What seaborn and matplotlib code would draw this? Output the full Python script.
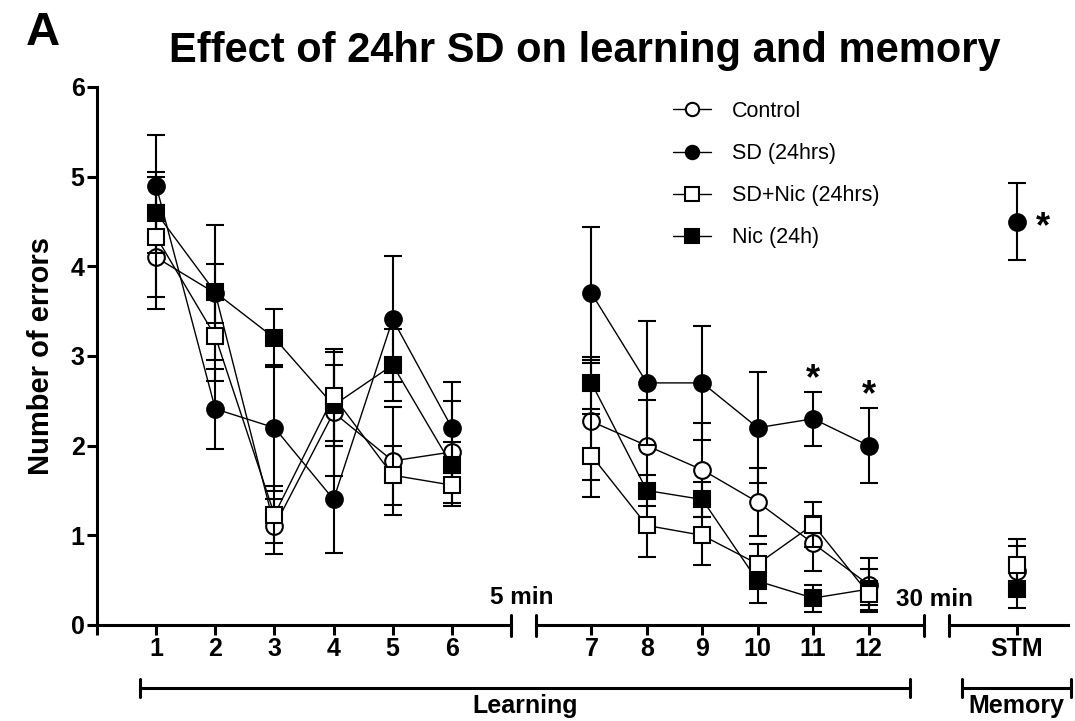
import matplotlib
matplotlib.use("Agg")
import matplotlib.pyplot as plt
import seaborn as sns
from matplotlib.lines import Line2D

# ---- data: mean number of errors and SEM per trial ----
trials_early = [1, 2, 3, 4, 5, 6]
trials_late = [7, 8, 9, 10, 11, 12]
stm_label = "STM"

control_mean = [4.10, 3.70, 1.10, 2.37, 1.83, 1.93, 2.27, 2.00, 1.73, 1.37, 0.91, 0.45]
control_sem = [0.58, 0.33, 0.31, 0.71, 0.60, 0.57, 0.65, 0.51, 0.52, 0.38, 0.31, 0.30]
control_stm = [0.60]
control_stm_sem = [0.28]

sd_mean = [4.90, 2.41, 2.20, 1.40, 3.41, 2.20, 3.70, 2.70, 2.70, 2.20, 2.30, 2.00]
sd_sem = [0.57, 0.45, 0.70, 0.60, 0.70, 0.51, 0.74, 0.69, 0.64, 0.62, 0.30, 0.42]
sd_stm = [4.50]
sd_stm_sem = [0.43]

sdnic_mean = [4.33, 3.22, 1.23, 2.55, 1.67, 1.56, 1.89, 1.11, 1.00, 0.68, 1.12, 0.35]
sdnic_sem = [0.67, 0.50, 0.32, 0.50, 0.33, 0.23, 0.46, 0.35, 0.33, 0.22, 0.25, 0.13]
sdnic_stm = [0.67]
sdnic_stm_sem = [0.29]

nic_mean = [4.60, 3.71, 3.20, 2.45, 2.90, 1.78, 2.70, 1.50, 1.40, 0.49, 0.30, 0.40]
nic_sem = [0.45, 0.75, 0.32, 0.45, 0.40, 0.26, 0.29, 0.17, 0.20, 0.25, 0.15, 0.23]
nic_stm = [0.40]
nic_stm_sem = [0.21]

significant_trials = [11, 12]

sns.set_style("ticks")
plt.rcParams["font.family"] = ["Liberation Sans", "DejaVu Sans"]
for key in ("text.color", "axes.labelcolor", "xtick.color", "ytick.color", "axes.edgecolor"):
    plt.rcParams[key] = "black"

W, H = 1075, 721
fig = plt.figure(figsize=(W / 100, H / 100), dpi=100)


def fx(px):
    return px / W


def fy(py):
    return 1 - py / H


TICK_FS = 18
bottom, top = fy(625), fy(87)
ax1 = fig.add_axes([fx(97), bottom, fx(511) - fx(97), top - bottom])
ax2 = fig.add_axes([fx(536), bottom, fx(924) - fx(536), top - bottom])
ax3 = fig.add_axes([fx(949), bottom, fx(1068) - fx(949), top - bottom])

# label, means, sems, stm mean, stm sem, marker, face, zorder (drawing order)
series = [
    ("Control", control_mean, control_sem, control_stm, control_stm_sem, "o", "white", 3),
    ("SD (24hrs)", sd_mean, sd_sem, sd_stm, sd_stm_sem, "o", "black", 4),
    ("Nic (24h)", nic_mean, nic_sem, nic_stm, nic_stm_sem, "s", "black", 5),
    ("SD+Nic (24hrs)", sdnic_mean, sdnic_sem, sdnic_stm, sdnic_stm_sem, "s", "white", 6),
]

stm_x = [0]
for label, m, s, ms, ss, mk, face, z in series:
    parts = [
        (ax1, trials_early, m[:6], s[:6]),
        (ax2, trials_late, m[6:], s[6:]),
        (ax3, stm_x, ms, ss),
    ]
    for ax, xs, ys, es in parts:
        ax.errorbar(xs, ys, yerr=es, fmt="none", ecolor="black", elinewidth=1.5,
                    capsize=6.5, capthick=1.5, zorder=z, clip_on=False)
        sns.lineplot(x=xs, y=ys, ax=ax, color="black", linewidth=1.0, marker=mk,
                     markersize=12, markerfacecolor=face, markeredgecolor="black",
                     markeredgewidth=1.5, zorder=z + 0.5, clip_on=False,
                     label=label if ax is ax1 else None, errorbar=None)

for ax in (ax1, ax2, ax3):
    leg = ax.get_legend()
    if leg is not None:
        leg.remove()
    ax.set_ylim(0, 6)
    ax.set_xlabel("")
    ax.set_ylabel("")
    for side in ("top", "right"):
        ax.spines[side].set_visible(False)
    for side in ("left", "bottom"):
        ax.spines[side].set_linewidth(2.2)
        ax.spines[side].set_color("black")
    ax.tick_params(axis="both", direction="out", length=7, width=2.2, color="black",
                   labelcolor="black", pad=2, labelsize=TICK_FS)
    ax.patch.set_alpha(0)

ax1.set_xlim(0, 7)
ax2.set_xlim(6, 13)
ax3.set_xlim(-68 / 59, 51 / 59)

ax1.set_yticks(range(0, 7))
ax1.set_yticklabels([str(v) for v in range(0, 7)], fontweight="bold", fontsize=TICK_FS)
ax1.set_xticks([0] + trials_early)
ax1.set_xticklabels([""] + [str(t) for t in trials_early], fontweight="bold", fontsize=TICK_FS)
ax2.set_xticks(trials_late)
ax2.set_xticklabels([str(t) for t in trials_late], fontweight="bold", fontsize=TICK_FS)
ax3.set_xticks(stm_x)
ax3.set_xticklabels([stm_label], fontweight="bold", fontsize=TICK_FS)
for ax in (ax2, ax3):
    ax.spines["left"].set_visible(False)
    ax.tick_params(axis="y", left=False, labelleft=False)

# break caps on the x axis
for px in (511, 536, 924, 949):
    fig.add_artist(Line2D([fx(px), fx(px)], [fy(615), fy(636)], color="black", lw=2.2))

fig.text(fx(522), fy(597), "5 min", ha="center", va="center", fontsize=17.5, fontweight="bold")
fig.text(fx(935), fy(599), "30 min", ha="center", va="center", fontsize=17.5, fontweight="bold")

# significance stars
for t in significant_trials:
    i = trials_late.index(t)
    ax2.annotate("*", xy=(t, sd_mean[6 + i] + sd_sem[6 + i]), xytext=(0, 2),
                 textcoords="offset points", ha="center", va="baseline",
                 fontsize=26, fontweight="bold", annotation_clip=False)
ax3.annotate("*", xy=(0, sd_stm[0]), xytext=(19, -11), textcoords="offset points",
             ha="center", va="baseline", fontsize=26, fontweight="bold",
             annotation_clip=False)

# legend
handles, labels = ax1.get_legend_handles_labels()
order = ["Control", "SD (24hrs)", "SD+Nic (24hrs)", "Nic (24h)"]
hmap = dict(zip(labels, handles))
fig.legend([hmap[k] for k in order], order, loc="upper left",
           bbox_to_anchor=(fx(673), fy(101)), frameon=False, fontsize=15.5,
           handlelength=1.75, handletextpad=1.0, labelspacing=0.98,
           borderpad=0, borderaxespad=0, markerscale=0.8)

# titles and axis label
fig.text(fx(585), fy(62), "Effect of 24hr SD on learning and memory", ha="center",
         va="baseline", fontsize=30, fontweight="bold")
fig.text(fx(26), fy(45), "A", ha="left", va="baseline", fontsize=34, fontweight="bold")
fig.text(fx(41), fy(356), "Number of errors", rotation=90, ha="center", va="center",
         fontsize=21, fontweight="bold")

# Learning / Memory brackets
def bracket(x0, x1, y, text):
    fig.add_artist(Line2D([fx(x0), fx(x1)], [fy(y), fy(y)], color="black", lw=2.2))
    for px in (x0, x1):
        fig.add_artist(Line2D([fx(px), fx(px)], [fy(y - 9), fy(y + 9)], color="black", lw=2.2))
    fig.text(fx((x0 + x1) / 2), fy(706), text, ha="center", va="center",
             fontsize=18, fontweight="bold")


bracket(140, 910, 688, "Learning")
bracket(962, 1071, 688, "Memory")

fig.savefig("out.png", dpi=100)
